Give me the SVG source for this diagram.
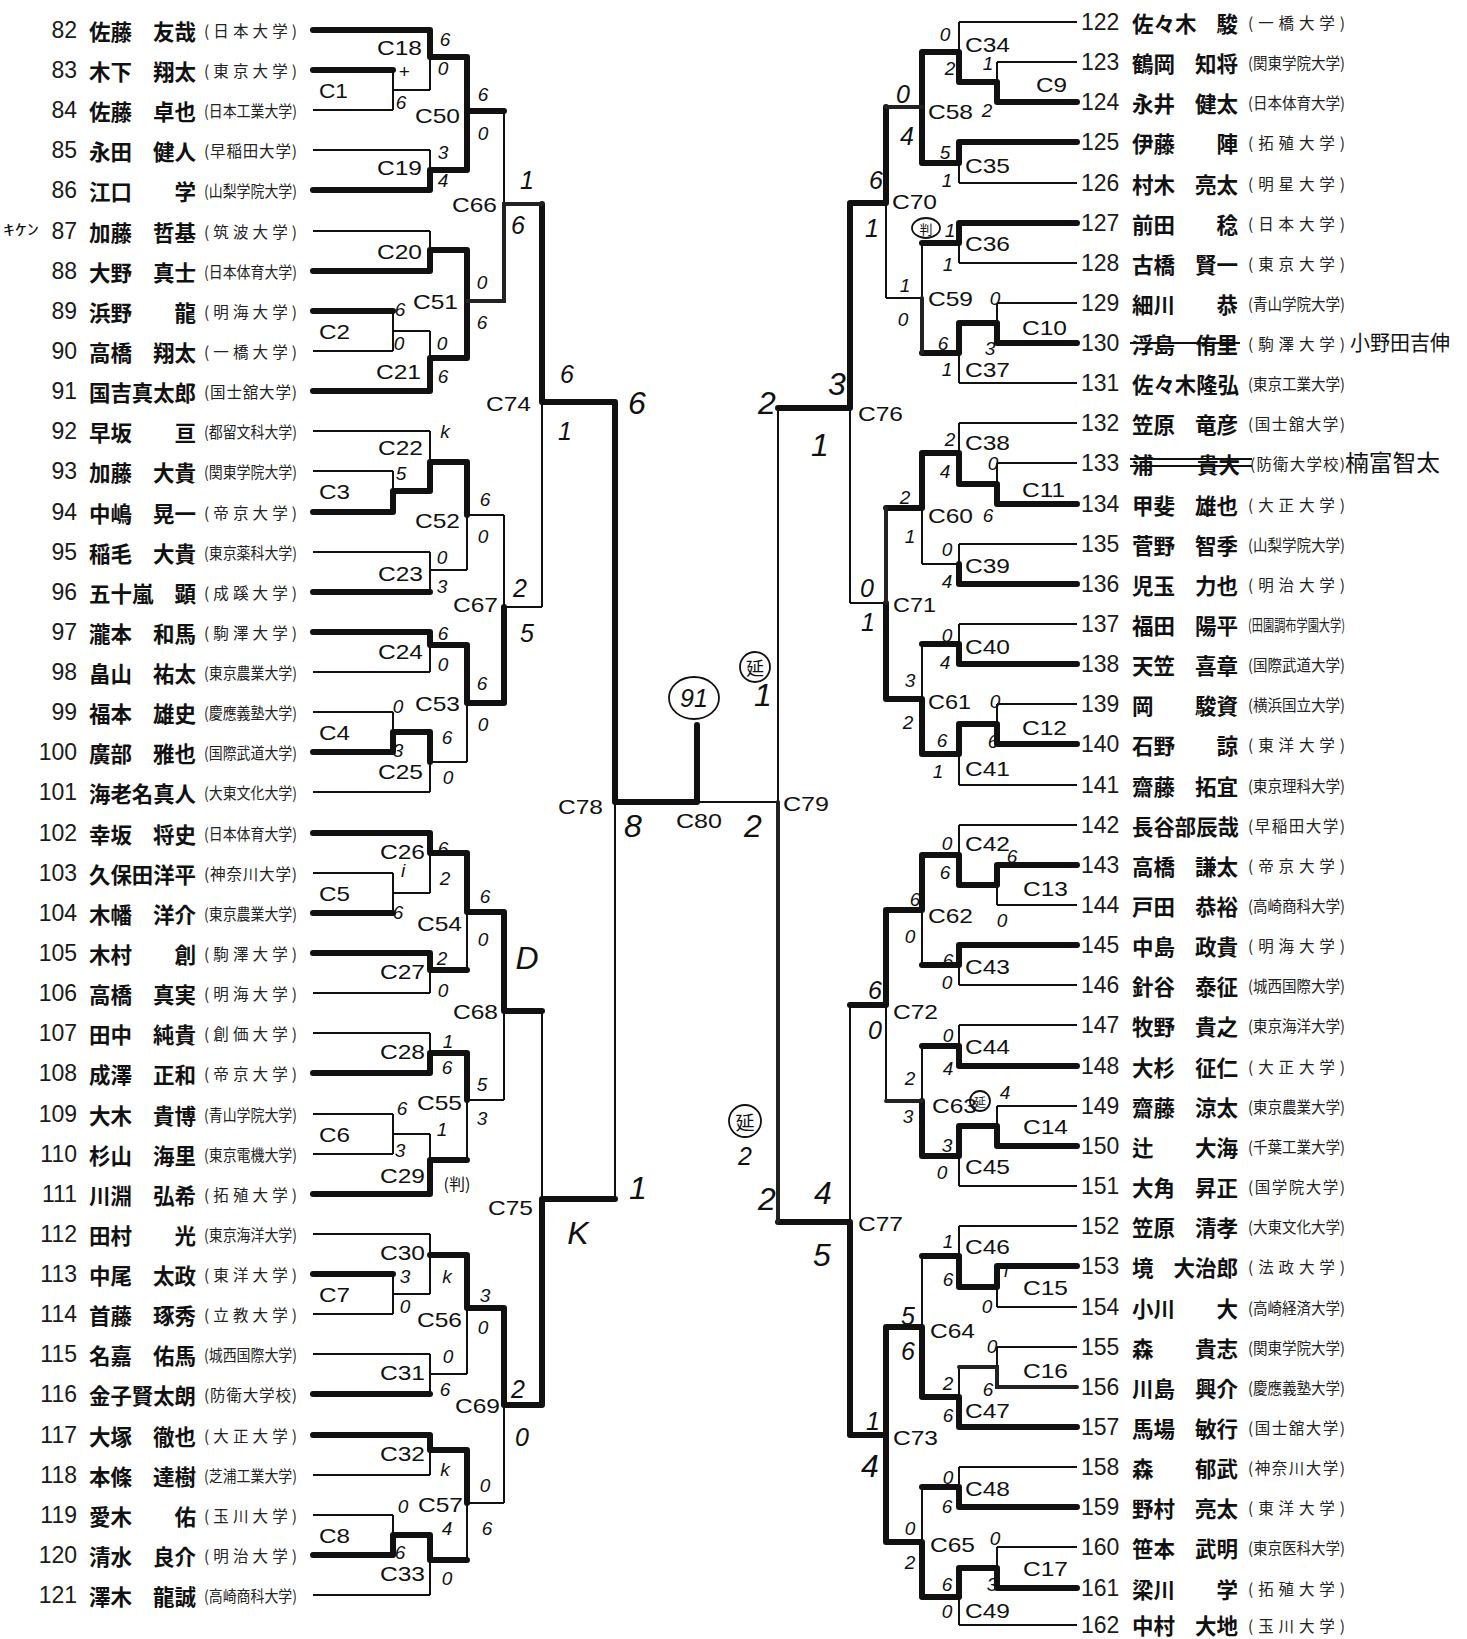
<svg xmlns="http://www.w3.org/2000/svg" width="1467" height="1639" viewBox="0 0 1467 1639">
<style>
text{dominant-baseline:central}
.n{font-family:"Liberation Sans",Arial,sans-serif;font-size:23px;fill:#1a1a1a}
.nm{font-family:"Noto Sans CJK JP",sans-serif;font-weight:700;font-size:21.5px;fill:#111}
.u{font-family:"Noto Sans CJK JP",sans-serif;font-size:15.5px;fill:#222}
.c{font-family:"Liberation Sans",Arial,sans-serif;font-size:21px;fill:#111}
.s{font-family:"Liberation Sans",Arial,sans-serif;font-style:italic;font-size:19px;fill:#111;text-anchor:middle}
.m{font-size:25px}
.b{font-size:32px}
.e{text-anchor:end}
.h{font-family:"Noto Sans CJK JP",sans-serif;fill:#111}
.ln{fill:none;stroke:#111;stroke-width:2}
.tk{fill:none;stroke:#111;stroke-width:6;stroke-linecap:round;stroke-linejoin:round}
.md{fill:none;stroke:#222;stroke-width:4;stroke-linecap:round}
.ring{fill:none;stroke:#111;stroke-width:1.8}
</style>
<rect width="1467" height="1639" fill="#fff"/>
<g id="connectors">
<path class="ln" d="M313 30H430M313 70H393M313 110H393M313 150H430M313 190H430M313 231H430M313 271H430M313 311H393M313 351H393M313 391H430M313 431H430M313 471H393M313 512H393M313 552H430M313 592H430M313 632H430M313 672H430M313 712H393M313 752H393M313 792H430M313 833H430M313 873H393M313 913H393M313 953H430M313 993H430M313 1033H430M313 1073H430M313 1114H393M313 1154H393M313 1194H430M313 1234H430M313 1274H393M313 1314H393M313 1354H430M313 1394H430M313 1435H430M313 1475H430M313 1515H393M313 1555H393M313 1595H430"/>
<path class="ln" d="M393 70V110M393 90H430M393 311V351M393 331H430M393 471V512M393 491H430M393 712V752M393 732H430M393 873V913M393 893H430M393 1114V1154M393 1134H430M393 1274V1314M393 1294H430M393 1515V1555M393 1535H430"/>
<path class="ln" d="M430 30V90M430 57H467M430 150V190M430 170H467M430 231V271M430 250H467M430 331V391M430 358H467M430 431V491M430 462H467M430 552V592M430 570H467M430 632V672M430 645H467M430 732V792M430 762H467M430 833V893M430 853H467M430 953V993M430 970H467M430 1033V1073M430 1053H467M430 1134V1194M430 1160H467M430 1234V1294M430 1255H467M430 1354V1394M430 1374H467M430 1435V1475M430 1450H467M430 1535V1595M430 1560H467"/>
<path class="ln" d="M467 57V170M467 111H504M467 250V358M467 301H504M467 462V570M467 515H504M467 645V762M467 703H504M467 853V970M467 912H504M467 1053V1160M467 1100H504M467 1255V1374M467 1308H504M467 1450V1560M467 1503H504"/>
<path class="ln" d="M504 111V301M504 204H542M504 515V703M504 607H542M504 912V1100M504 1011H542M504 1308V1503M504 1405H542M542 204V607M542 402H615M542 1011V1405M542 1199H615M615 402V1199M615 802H697M697 802H778"/>
<path class="ln" d="M959 22H1077M997 62H1077M997 102H1077M959 142H1077M959 183H1077M959 223H1077M959 263H1077M997 303H1077M997 343H1077M959 383H1077M959 423H1077M997 463H1077M997 504H1077M959 544H1077M959 584H1077M959 624H1077M959 664H1077M997 704H1077M997 744H1077M959 785H1077M959 825H1077M997 865H1077M997 905H1077M959 945H1077M959 985H1077M959 1025H1077M959 1066H1077M997 1106H1077M997 1146H1077M959 1186H1077M959 1226H1077M997 1266H1077M997 1307H1077M997 1347H1077M997 1387H1077M959 1427H1077M959 1467H1077M959 1507H1077M997 1547H1077M997 1588H1077M959 1625H1077"/>
<path class="ln" d="M997 62V102M997 82H959M997 303V343M997 323H959M997 463V504M997 484H959M997 704V744M997 724H959M997 865V905M997 885H959M997 1106V1146M997 1126H959M997 1266V1307M997 1287H959M997 1347V1387M997 1367H959M997 1547V1588M997 1568H959"/>
<path class="ln" d="M959 22V82M959 52H922M959 142V183M959 163H922M959 223V263M959 243H922M959 323V383M959 353H922M959 423V484M959 453H922M959 544V584M959 564H922M959 624V664M959 644H922M959 724V785M959 754H922M959 825V885M959 855H922M959 945V985M959 965H922M959 1025V1066M959 1046H922M959 1126V1186M959 1156H922M959 1226V1287M959 1256H922M959 1367V1427M959 1397H922M959 1467V1507M959 1487H922M959 1568V1625M959 1597H922"/>
<path class="ln" d="M922 52V163M922 107H886M922 243V353M922 298H886M922 453V564M922 508H886M922 644V754M922 699H886M922 855V965M922 910H886M922 1046V1156M922 1101H886M922 1256V1397M922 1327H886M922 1487V1597M922 1542H886"/>
<path class="ln" d="M886 107V298M886 203H850M886 508V699M886 603H850M886 910V1101M886 1005H850M886 1327V1542M886 1435H850M850 203V603M850 408H778M850 1005V1435M850 1222H778M778 408V1222"/>
<path class="tk" d="M313 30H430V57H467V111H504M467 111V170M313 70H393M313 190H430V170H467M313 271H430V250H467V358M313 311H393M313 391H430V358H467M542 204V402H615V802H697V725M313 512H393V491H430V462H467V515M313 592H430M313 632H430V645H467V703H504V607M313 752H393V732H430V762M313 833H430V853H467V912H504V1011H542M313 913H393M313 953H430V970H467M313 1073H430V1053H467V1100M313 1194H430V1160H467M313 1274H393M430 1255H467V1308H504V1405H542V1199H615M313 1394H430M313 1435H430V1450H467V1503M313 1555H393V1535H430V1560H467"/>
<path class="md" d="M467 301H504V204H542"/>
<path class="tk" d="M1077 102H997V82H959V52H922V163M886 107V203H850V408H778M1077 142H959V163H922M1077 223H959V243H922M1077 343H997V323H959V353H922M1077 504H997V484H959V453H922V508H886M1077 584H959V564M1077 664H959V644H922M1077 744H997V724H959V754H922V699H886V603M1077 865H997V885H959V855H922V910H886V1005H850M1077 945H959V965H922M1077 1066H959V1046H922M1077 1146H997V1126H959V1156H922V1101M1077 1266H997V1287H959V1256H922M1077 1427H959V1397H922V1327H886V1435M1077 1507H959V1487H922M1077 1588H997V1568H959V1597H922V1542H886V1435H850V1222H778"/>
<path class="md" d="M922 107H886M922 353V298M886 508V603M922 1101H886M1077 1387H997V1367H959M778 1222V802"/>
</g>
<g id="players-left">
<g id="p82"><text class="n e" x="77" y="30">82</text><text class="nm" x="89" y="30">佐藤</text><text class="nm e" x="196" y="30">友哉</text><text class="u" x="204" y="30" textLength="93" lengthAdjust="spacing">(日本大学)</text></g>
<g id="p83"><text class="n e" x="77" y="70">83</text><text class="nm" x="89" y="70">木下</text><text class="nm e" x="196" y="70">翔太</text><text class="u" x="204" y="70" textLength="93" lengthAdjust="spacing">(東京大学)</text></g>
<g id="p84"><text class="n e" x="77" y="110">84</text><text class="nm" x="89" y="110">佐藤</text><text class="nm e" x="196" y="110">卓也</text><text class="u" x="204" y="110" textLength="93" lengthAdjust="spacingAndGlyphs">(日本工業大学)</text></g>
<g id="p85"><text class="n e" x="77" y="150">85</text><text class="nm" x="89" y="150">永田</text><text class="nm e" x="196" y="150">健人</text><text class="u" x="204" y="150" textLength="93" lengthAdjust="spacing">(早稲田大学)</text></g>
<g id="p86"><text class="n e" x="77" y="190">86</text><text class="nm" x="89" y="190">江口</text><text class="nm e" x="196" y="190">学</text><text class="u" x="204" y="190" textLength="93" lengthAdjust="spacingAndGlyphs">(山梨学院大学)</text></g>
<g id="p87"><text class="n e" x="77" y="231">87</text><text class="nm" x="89" y="231">加藤</text><text class="nm e" x="196" y="231">哲基</text><text class="u" x="204" y="231" textLength="93" lengthAdjust="spacing">(筑波大学)</text><text class="h" x="3" y="228" font-size="15" textLength="36" lengthAdjust="spacingAndGlyphs">ｷｹﾝ</text></g>
<g id="p88"><text class="n e" x="77" y="271">88</text><text class="nm" x="89" y="271">大野</text><text class="nm e" x="196" y="271">真士</text><text class="u" x="204" y="271" textLength="93" lengthAdjust="spacingAndGlyphs">(日本体育大学)</text></g>
<g id="p89"><text class="n e" x="77" y="311">89</text><text class="nm" x="89" y="311">浜野</text><text class="nm e" x="196" y="311">龍</text><text class="u" x="204" y="311" textLength="93" lengthAdjust="spacing">(明海大学)</text></g>
<g id="p90"><text class="n e" x="77" y="351">90</text><text class="nm" x="89" y="351">高橋</text><text class="nm e" x="196" y="351">翔太</text><text class="u" x="204" y="351" textLength="93" lengthAdjust="spacing">(一橋大学)</text></g>
<g id="p91"><text class="n e" x="77" y="391">91</text><text class="nm" x="89" y="391" textLength="107" lengthAdjust="spacingAndGlyphs">国吉真太郎</text><text class="u" x="204" y="391" textLength="93" lengthAdjust="spacing">(国士舘大学)</text></g>
<g id="p92"><text class="n e" x="77" y="431">92</text><text class="nm" x="89" y="431">早坂</text><text class="nm e" x="196" y="431">亘</text><text class="u" x="204" y="431" textLength="93" lengthAdjust="spacingAndGlyphs">(都留文科大学)</text></g>
<g id="p93"><text class="n e" x="77" y="471">93</text><text class="nm" x="89" y="471">加藤</text><text class="nm e" x="196" y="471">大貴</text><text class="u" x="204" y="471" textLength="93" lengthAdjust="spacingAndGlyphs">(関東学院大学)</text></g>
<g id="p94"><text class="n e" x="77" y="512">94</text><text class="nm" x="89" y="512">中嶋</text><text class="nm e" x="196" y="512">晃一</text><text class="u" x="204" y="512" textLength="93" lengthAdjust="spacing">(帝京大学)</text></g>
<g id="p95"><text class="n e" x="77" y="552">95</text><text class="nm" x="89" y="552">稲毛</text><text class="nm e" x="196" y="552">大貴</text><text class="u" x="204" y="552" textLength="93" lengthAdjust="spacingAndGlyphs">(東京薬科大学)</text></g>
<g id="p96"><text class="n e" x="77" y="592">96</text><text class="nm" x="89" y="592">五十嵐</text><text class="nm e" x="196" y="592">顕</text><text class="u" x="204" y="592" textLength="93" lengthAdjust="spacing">(成蹊大学)</text></g>
<g id="p97"><text class="n e" x="77" y="632">97</text><text class="nm" x="89" y="632">瀧本</text><text class="nm e" x="196" y="632">和馬</text><text class="u" x="204" y="632" textLength="93" lengthAdjust="spacing">(駒澤大学)</text></g>
<g id="p98"><text class="n e" x="77" y="672">98</text><text class="nm" x="89" y="672">畠山</text><text class="nm e" x="196" y="672">祐太</text><text class="u" x="204" y="672" textLength="93" lengthAdjust="spacingAndGlyphs">(東京農業大学)</text></g>
<g id="p99"><text class="n e" x="77" y="712">99</text><text class="nm" x="89" y="712">福本</text><text class="nm e" x="196" y="712">雄史</text><text class="u" x="204" y="712" textLength="93" lengthAdjust="spacingAndGlyphs">(慶應義塾大学)</text></g>
<g id="p100"><text class="n e" x="77" y="752">100</text><text class="nm" x="89" y="752">廣部</text><text class="nm e" x="196" y="752">雅也</text><text class="u" x="204" y="752" textLength="93" lengthAdjust="spacingAndGlyphs">(国際武道大学)</text></g>
<g id="p101"><text class="n e" x="77" y="792">101</text><text class="nm" x="89" y="792" textLength="107" lengthAdjust="spacingAndGlyphs">海老名真人</text><text class="u" x="204" y="792" textLength="93" lengthAdjust="spacingAndGlyphs">(大東文化大学)</text></g>
<g id="p102"><text class="n e" x="77" y="833">102</text><text class="nm" x="89" y="833">幸坂</text><text class="nm e" x="196" y="833">将史</text><text class="u" x="204" y="833" textLength="93" lengthAdjust="spacingAndGlyphs">(日本体育大学)</text></g>
<g id="p103"><text class="n e" x="77" y="873">103</text><text class="nm" x="89" y="873" textLength="107" lengthAdjust="spacingAndGlyphs">久保田洋平</text><text class="u" x="204" y="873" textLength="93" lengthAdjust="spacing">(神奈川大学)</text></g>
<g id="p104"><text class="n e" x="77" y="913">104</text><text class="nm" x="89" y="913">木幡</text><text class="nm e" x="196" y="913">洋介</text><text class="u" x="204" y="913" textLength="93" lengthAdjust="spacingAndGlyphs">(東京農業大学)</text></g>
<g id="p105"><text class="n e" x="77" y="953">105</text><text class="nm" x="89" y="953">木村</text><text class="nm e" x="196" y="953">創</text><text class="u" x="204" y="953" textLength="93" lengthAdjust="spacing">(駒澤大学)</text></g>
<g id="p106"><text class="n e" x="77" y="993">106</text><text class="nm" x="89" y="993">高橋</text><text class="nm e" x="196" y="993">真実</text><text class="u" x="204" y="993" textLength="93" lengthAdjust="spacing">(明海大学)</text></g>
<g id="p107"><text class="n e" x="77" y="1033">107</text><text class="nm" x="89" y="1033">田中</text><text class="nm e" x="196" y="1033">純貴</text><text class="u" x="204" y="1033" textLength="93" lengthAdjust="spacing">(創価大学)</text></g>
<g id="p108"><text class="n e" x="77" y="1073">108</text><text class="nm" x="89" y="1073">成澤</text><text class="nm e" x="196" y="1073">正和</text><text class="u" x="204" y="1073" textLength="93" lengthAdjust="spacing">(帝京大学)</text></g>
<g id="p109"><text class="n e" x="77" y="1114">109</text><text class="nm" x="89" y="1114">大木</text><text class="nm e" x="196" y="1114">貴博</text><text class="u" x="204" y="1114" textLength="93" lengthAdjust="spacingAndGlyphs">(青山学院大学)</text></g>
<g id="p110"><text class="n e" x="77" y="1154">110</text><text class="nm" x="89" y="1154">杉山</text><text class="nm e" x="196" y="1154">海里</text><text class="u" x="204" y="1154" textLength="93" lengthAdjust="spacingAndGlyphs">(東京電機大学)</text></g>
<g id="p111"><text class="n e" x="77" y="1194">111</text><text class="nm" x="89" y="1194">川淵</text><text class="nm e" x="196" y="1194">弘希</text><text class="u" x="204" y="1194" textLength="93" lengthAdjust="spacing">(拓殖大学)</text></g>
<g id="p112"><text class="n e" x="77" y="1234">112</text><text class="nm" x="89" y="1234">田村</text><text class="nm e" x="196" y="1234">光</text><text class="u" x="204" y="1234" textLength="93" lengthAdjust="spacingAndGlyphs">(東京海洋大学)</text></g>
<g id="p113"><text class="n e" x="77" y="1274">113</text><text class="nm" x="89" y="1274">中尾</text><text class="nm e" x="196" y="1274">太政</text><text class="u" x="204" y="1274" textLength="93" lengthAdjust="spacing">(東洋大学)</text></g>
<g id="p114"><text class="n e" x="77" y="1314">114</text><text class="nm" x="89" y="1314">首藤</text><text class="nm e" x="196" y="1314">琢秀</text><text class="u" x="204" y="1314" textLength="93" lengthAdjust="spacing">(立教大学)</text></g>
<g id="p115"><text class="n e" x="77" y="1354">115</text><text class="nm" x="89" y="1354">名嘉</text><text class="nm e" x="196" y="1354">佑馬</text><text class="u" x="204" y="1354" textLength="93" lengthAdjust="spacingAndGlyphs">(城西国際大学)</text></g>
<g id="p116"><text class="n e" x="77" y="1394">116</text><text class="nm" x="89" y="1394" textLength="107" lengthAdjust="spacingAndGlyphs">金子賢太朗</text><text class="u" x="204" y="1394" textLength="93" lengthAdjust="spacing">(防衛大学校)</text></g>
<g id="p117"><text class="n e" x="77" y="1435">117</text><text class="nm" x="89" y="1435">大塚</text><text class="nm e" x="196" y="1435">徹也</text><text class="u" x="204" y="1435" textLength="93" lengthAdjust="spacing">(大正大学)</text></g>
<g id="p118"><text class="n e" x="77" y="1475">118</text><text class="nm" x="89" y="1475">本條</text><text class="nm e" x="196" y="1475">達樹</text><text class="u" x="204" y="1475" textLength="93" lengthAdjust="spacingAndGlyphs">(芝浦工業大学)</text></g>
<g id="p119"><text class="n e" x="77" y="1515">119</text><text class="nm" x="89" y="1515">愛木</text><text class="nm e" x="196" y="1515">佑</text><text class="u" x="204" y="1515" textLength="93" lengthAdjust="spacing">(玉川大学)</text></g>
<g id="p120"><text class="n e" x="77" y="1555">120</text><text class="nm" x="89" y="1555">清水</text><text class="nm e" x="196" y="1555">良介</text><text class="u" x="204" y="1555" textLength="93" lengthAdjust="spacing">(明治大学)</text></g>
<g id="p121"><text class="n e" x="77" y="1595">121</text><text class="nm" x="89" y="1595">澤木</text><text class="nm e" x="196" y="1595">龍誠</text><text class="u" x="204" y="1595" textLength="93" lengthAdjust="spacingAndGlyphs">(高崎商科大学)</text></g>
</g>
<g id="players-right">
<g id="p122"><text class="n" x="1081" y="22">122</text><text class="nm" x="1132" y="22">佐々木</text><text class="nm e" x="1238" y="22">駿</text><text class="u" x="1248" y="22" textLength="97" lengthAdjust="spacing">(一橋大学)</text></g>
<g id="p123"><text class="n" x="1081" y="62">123</text><text class="nm" x="1132" y="62">鶴岡</text><text class="nm e" x="1238" y="62">知将</text><text class="u" x="1248" y="62" textLength="97" lengthAdjust="spacingAndGlyphs">(関東学院大学)</text></g>
<g id="p124"><text class="n" x="1081" y="102">124</text><text class="nm" x="1132" y="102">永井</text><text class="nm e" x="1238" y="102">健太</text><text class="u" x="1248" y="102" textLength="97" lengthAdjust="spacingAndGlyphs">(日本体育大学)</text></g>
<g id="p125"><text class="n" x="1081" y="142">125</text><text class="nm" x="1132" y="142">伊藤</text><text class="nm e" x="1238" y="142">陣</text><text class="u" x="1248" y="142" textLength="97" lengthAdjust="spacing">(拓殖大学)</text></g>
<g id="p126"><text class="n" x="1081" y="183">126</text><text class="nm" x="1132" y="183">村木</text><text class="nm e" x="1238" y="183">亮太</text><text class="u" x="1248" y="183" textLength="97" lengthAdjust="spacing">(明星大学)</text></g>
<g id="p127"><text class="n" x="1081" y="223">127</text><text class="nm" x="1132" y="223">前田</text><text class="nm e" x="1238" y="223">稔</text><text class="u" x="1248" y="223" textLength="97" lengthAdjust="spacing">(日本大学)</text></g>
<g id="p128"><text class="n" x="1081" y="263">128</text><text class="nm" x="1132" y="263">古橋</text><text class="nm e" x="1238" y="263">賢一</text><text class="u" x="1248" y="263" textLength="97" lengthAdjust="spacing">(東京大学)</text></g>
<g id="p129"><text class="n" x="1081" y="303">129</text><text class="nm" x="1132" y="303">細川</text><text class="nm e" x="1238" y="303">恭</text><text class="u" x="1248" y="303" textLength="97" lengthAdjust="spacingAndGlyphs">(青山学院大学)</text></g>
<g id="p130"><text class="n" x="1081" y="343">130</text><text class="nm" x="1132" y="343">浮島</text><text class="nm e" x="1238" y="343">侑里</text><text class="u" x="1248" y="343" textLength="97" lengthAdjust="spacing">(駒澤大学)</text><path class="ln" d="M1130 343H1240"/><text class="h" x="1350" y="341" font-size="21" textLength="100" lengthAdjust="spacingAndGlyphs">小野田吉伸</text></g>
<g id="p131"><text class="n" x="1081" y="383">131</text><text class="nm" x="1132" y="383" textLength="107" lengthAdjust="spacingAndGlyphs">佐々木隆弘</text><text class="u" x="1248" y="383" textLength="97" lengthAdjust="spacingAndGlyphs">(東京工業大学)</text></g>
<g id="p132"><text class="n" x="1081" y="423">132</text><text class="nm" x="1132" y="423">笠原</text><text class="nm e" x="1238" y="423">竜彦</text><text class="u" x="1248" y="423" textLength="97" lengthAdjust="spacing">(国士舘大学)</text></g>
<g id="p133"><text class="n" x="1081" y="463">133</text><text class="nm" x="1132" y="463">浦</text><text class="nm e" x="1240" y="463">貴大</text><text class="u" x="1250" y="463" textLength="95" lengthAdjust="spacing">(防衛大学校)</text><path class="ln" d="M1130 459H1252M1130 466H1252"/><text class="h" x="1345" y="461" font-size="23" textLength="95" lengthAdjust="spacingAndGlyphs">楠富智太</text></g>
<g id="p134"><text class="n" x="1081" y="504">134</text><text class="nm" x="1132" y="504">甲斐</text><text class="nm e" x="1238" y="504">雄也</text><text class="u" x="1248" y="504" textLength="97" lengthAdjust="spacing">(大正大学)</text></g>
<g id="p135"><text class="n" x="1081" y="544">135</text><text class="nm" x="1132" y="544">菅野</text><text class="nm e" x="1238" y="544">智季</text><text class="u" x="1248" y="544" textLength="97" lengthAdjust="spacingAndGlyphs">(山梨学院大学)</text></g>
<g id="p136"><text class="n" x="1081" y="584">136</text><text class="nm" x="1132" y="584">児玉</text><text class="nm e" x="1238" y="584">力也</text><text class="u" x="1248" y="584" textLength="97" lengthAdjust="spacing">(明治大学)</text></g>
<g id="p137"><text class="n" x="1081" y="624">137</text><text class="nm" x="1132" y="624">福田</text><text class="nm e" x="1238" y="624">陽平</text><text class="u" x="1248" y="624" textLength="97" lengthAdjust="spacingAndGlyphs">(田園調布学園大学)</text></g>
<g id="p138"><text class="n" x="1081" y="664">138</text><text class="nm" x="1132" y="664">天笠</text><text class="nm e" x="1238" y="664">喜章</text><text class="u" x="1248" y="664" textLength="97" lengthAdjust="spacingAndGlyphs">(国際武道大学)</text></g>
<g id="p139"><text class="n" x="1081" y="704">139</text><text class="nm" x="1132" y="704">岡</text><text class="nm e" x="1238" y="704">駿資</text><text class="u" x="1248" y="704" textLength="97" lengthAdjust="spacingAndGlyphs">(横浜国立大学)</text></g>
<g id="p140"><text class="n" x="1081" y="744">140</text><text class="nm" x="1132" y="744">石野</text><text class="nm e" x="1238" y="744">諒</text><text class="u" x="1248" y="744" textLength="97" lengthAdjust="spacing">(東洋大学)</text></g>
<g id="p141"><text class="n" x="1081" y="785">141</text><text class="nm" x="1132" y="785">齋藤</text><text class="nm e" x="1238" y="785">拓宜</text><text class="u" x="1248" y="785" textLength="97" lengthAdjust="spacingAndGlyphs">(東京理科大学)</text></g>
<g id="p142"><text class="n" x="1081" y="825">142</text><text class="nm" x="1132" y="825" textLength="107" lengthAdjust="spacingAndGlyphs">長谷部辰哉</text><text class="u" x="1248" y="825" textLength="97" lengthAdjust="spacing">(早稲田大学)</text></g>
<g id="p143"><text class="n" x="1081" y="865">143</text><text class="nm" x="1132" y="865">高橋</text><text class="nm e" x="1238" y="865">謙太</text><text class="u" x="1248" y="865" textLength="97" lengthAdjust="spacing">(帝京大学)</text></g>
<g id="p144"><text class="n" x="1081" y="905">144</text><text class="nm" x="1132" y="905">戸田</text><text class="nm e" x="1238" y="905">恭裕</text><text class="u" x="1248" y="905" textLength="97" lengthAdjust="spacingAndGlyphs">(高崎商科大学)</text></g>
<g id="p145"><text class="n" x="1081" y="945">145</text><text class="nm" x="1132" y="945">中島</text><text class="nm e" x="1238" y="945">政貴</text><text class="u" x="1248" y="945" textLength="97" lengthAdjust="spacing">(明海大学)</text></g>
<g id="p146"><text class="n" x="1081" y="985">146</text><text class="nm" x="1132" y="985">針谷</text><text class="nm e" x="1238" y="985">泰征</text><text class="u" x="1248" y="985" textLength="97" lengthAdjust="spacingAndGlyphs">(城西国際大学)</text></g>
<g id="p147"><text class="n" x="1081" y="1025">147</text><text class="nm" x="1132" y="1025">牧野</text><text class="nm e" x="1238" y="1025">貴之</text><text class="u" x="1248" y="1025" textLength="97" lengthAdjust="spacingAndGlyphs">(東京海洋大学)</text></g>
<g id="p148"><text class="n" x="1081" y="1066">148</text><text class="nm" x="1132" y="1066">大杉</text><text class="nm e" x="1238" y="1066">征仁</text><text class="u" x="1248" y="1066" textLength="97" lengthAdjust="spacing">(大正大学)</text></g>
<g id="p149"><text class="n" x="1081" y="1106">149</text><text class="nm" x="1132" y="1106">齋藤</text><text class="nm e" x="1238" y="1106">涼太</text><text class="u" x="1248" y="1106" textLength="97" lengthAdjust="spacingAndGlyphs">(東京農業大学)</text></g>
<g id="p150"><text class="n" x="1081" y="1146">150</text><text class="nm" x="1132" y="1146">辻</text><text class="nm e" x="1238" y="1146">大海</text><text class="u" x="1248" y="1146" textLength="97" lengthAdjust="spacingAndGlyphs">(千葉工業大学)</text></g>
<g id="p151"><text class="n" x="1081" y="1186">151</text><text class="nm" x="1132" y="1186">大角</text><text class="nm e" x="1238" y="1186">昇正</text><text class="u" x="1248" y="1186" textLength="97" lengthAdjust="spacing">(国学院大学)</text></g>
<g id="p152"><text class="n" x="1081" y="1226">152</text><text class="nm" x="1132" y="1226">笠原</text><text class="nm e" x="1238" y="1226">清孝</text><text class="u" x="1248" y="1226" textLength="97" lengthAdjust="spacingAndGlyphs">(大東文化大学)</text></g>
<g id="p153"><text class="n" x="1081" y="1266">153</text><text class="nm" x="1132" y="1266">境</text><text class="nm e" x="1238" y="1266">大治郎</text><text class="u" x="1248" y="1266" textLength="97" lengthAdjust="spacing">(法政大学)</text></g>
<g id="p154"><text class="n" x="1081" y="1307">154</text><text class="nm" x="1132" y="1307">小川</text><text class="nm e" x="1238" y="1307">大</text><text class="u" x="1248" y="1307" textLength="97" lengthAdjust="spacingAndGlyphs">(高崎経済大学)</text></g>
<g id="p155"><text class="n" x="1081" y="1347">155</text><text class="nm" x="1132" y="1347">森</text><text class="nm e" x="1238" y="1347">貴志</text><text class="u" x="1248" y="1347" textLength="97" lengthAdjust="spacingAndGlyphs">(関東学院大学)</text></g>
<g id="p156"><text class="n" x="1081" y="1387">156</text><text class="nm" x="1132" y="1387">川島</text><text class="nm e" x="1238" y="1387">興介</text><text class="u" x="1248" y="1387" textLength="97" lengthAdjust="spacingAndGlyphs">(慶應義塾大学)</text></g>
<g id="p157"><text class="n" x="1081" y="1427">157</text><text class="nm" x="1132" y="1427">馬場</text><text class="nm e" x="1238" y="1427">敏行</text><text class="u" x="1248" y="1427" textLength="97" lengthAdjust="spacing">(国士舘大学)</text></g>
<g id="p158"><text class="n" x="1081" y="1467">158</text><text class="nm" x="1132" y="1467">森</text><text class="nm e" x="1238" y="1467">郁武</text><text class="u" x="1248" y="1467" textLength="97" lengthAdjust="spacing">(神奈川大学)</text></g>
<g id="p159"><text class="n" x="1081" y="1507">159</text><text class="nm" x="1132" y="1507">野村</text><text class="nm e" x="1238" y="1507">亮太</text><text class="u" x="1248" y="1507" textLength="97" lengthAdjust="spacing">(東洋大学)</text></g>
<g id="p160"><text class="n" x="1081" y="1547">160</text><text class="nm" x="1132" y="1547">笹本</text><text class="nm e" x="1238" y="1547">武明</text><text class="u" x="1248" y="1547" textLength="97" lengthAdjust="spacingAndGlyphs">(東京医科大学)</text></g>
<g id="p161"><text class="n" x="1081" y="1588">161</text><text class="nm" x="1132" y="1588">梁川</text><text class="nm e" x="1238" y="1588">学</text><text class="u" x="1248" y="1588" textLength="97" lengthAdjust="spacing">(拓殖大学)</text></g>
<g id="p162"><text class="n" x="1081" y="1625">162</text><text class="nm" x="1132" y="1624">中村</text><text class="nm e" x="1238" y="1624">大地</text><text class="u" x="1248" y="1625" textLength="97" lengthAdjust="spacing">(玉川大学)</text></g>
</g>
<g id="matches-left">
<g id="C1"><text class="c" x="319" y="90" textLength="29" lengthAdjust="spacingAndGlyphs">C1</text></g>
<g id="C2"><text class="c" x="319" y="331" textLength="31" lengthAdjust="spacingAndGlyphs">C2</text></g>
<g id="C3"><text class="c" x="319" y="491" textLength="31" lengthAdjust="spacingAndGlyphs">C3</text></g>
<g id="C4"><text class="c" x="319" y="732" textLength="31" lengthAdjust="spacingAndGlyphs">C4</text></g>
<g id="C5"><text class="c" x="319" y="893" textLength="31" lengthAdjust="spacingAndGlyphs">C5</text></g>
<g id="C6"><text class="c" x="319" y="1134" textLength="31" lengthAdjust="spacingAndGlyphs">C6</text></g>
<g id="C7"><text class="c" x="319" y="1294" textLength="31" lengthAdjust="spacingAndGlyphs">C7</text></g>
<g id="C8"><text class="c" x="319" y="1535" textLength="31" lengthAdjust="spacingAndGlyphs">C8</text></g>
<g id="C18"><text class="c e" x="422" y="47" textLength="45" lengthAdjust="spacingAndGlyphs">C18</text></g>
<g id="C19"><text class="c e" x="422" y="167" textLength="45" lengthAdjust="spacingAndGlyphs">C19</text></g>
<g id="C20"><text class="c e" x="422" y="251" textLength="45" lengthAdjust="spacingAndGlyphs">C20</text></g>
<g id="C21"><text class="c e" x="421" y="371" textLength="45" lengthAdjust="spacingAndGlyphs">C21</text></g>
<g id="C22"><text class="c e" x="423" y="447" textLength="45" lengthAdjust="spacingAndGlyphs">C22</text></g>
<g id="C23"><text class="c e" x="423" y="573" textLength="45" lengthAdjust="spacingAndGlyphs">C23</text></g>
<g id="C24"><text class="c e" x="423" y="651" textLength="45" lengthAdjust="spacingAndGlyphs">C24</text></g>
<g id="C25"><text class="c e" x="423" y="771" textLength="45" lengthAdjust="spacingAndGlyphs">C25</text></g>
<g id="C26"><text class="c e" x="425" y="851" textLength="45" lengthAdjust="spacingAndGlyphs">C26</text></g>
<g id="C27"><text class="c e" x="425" y="971" textLength="45" lengthAdjust="spacingAndGlyphs">C27</text></g>
<g id="C28"><text class="c e" x="425" y="1051" textLength="45" lengthAdjust="spacingAndGlyphs">C28</text></g>
<g id="C29"><text class="c e" x="425" y="1175" textLength="45" lengthAdjust="spacingAndGlyphs">C29</text></g>
<g id="C30"><text class="c e" x="425" y="1252" textLength="45" lengthAdjust="spacingAndGlyphs">C30</text></g>
<g id="C31"><text class="c e" x="425" y="1372" textLength="45" lengthAdjust="spacingAndGlyphs">C31</text></g>
<g id="C32"><text class="c e" x="425" y="1453" textLength="45" lengthAdjust="spacingAndGlyphs">C32</text></g>
<g id="C33"><text class="c e" x="425" y="1573" textLength="45" lengthAdjust="spacingAndGlyphs">C33</text></g>
<g id="C50"><text class="c e" x="460" y="115" textLength="45" lengthAdjust="spacingAndGlyphs">C50</text></g>
<g id="C51"><text class="c e" x="458" y="301" textLength="45" lengthAdjust="spacingAndGlyphs">C51</text></g>
<g id="C52"><text class="c e" x="460" y="520" textLength="45" lengthAdjust="spacingAndGlyphs">C52</text></g>
<g id="C53"><text class="c e" x="460" y="703" textLength="45" lengthAdjust="spacingAndGlyphs">C53</text></g>
<g id="C54"><text class="c e" x="462" y="923" textLength="45" lengthAdjust="spacingAndGlyphs">C54</text></g>
<g id="C55"><text class="c e" x="462" y="1102" textLength="45" lengthAdjust="spacingAndGlyphs">C55</text></g>
<g id="C56"><text class="c e" x="462" y="1319" textLength="45" lengthAdjust="spacingAndGlyphs">C56</text></g>
<g id="C57"><text class="c e" x="463" y="1504" textLength="45" lengthAdjust="spacingAndGlyphs">C57</text></g>
<g id="C66"><text class="c e" x="497" y="204" textLength="45" lengthAdjust="spacingAndGlyphs">C66</text></g>
<g id="C67"><text class="c e" x="498" y="604" textLength="45" lengthAdjust="spacingAndGlyphs">C67</text></g>
<g id="C68"><text class="c e" x="498" y="1011" textLength="45" lengthAdjust="spacingAndGlyphs">C68</text></g>
<g id="C69"><text class="c e" x="500" y="1405" textLength="45" lengthAdjust="spacingAndGlyphs">C69</text></g>
<g id="C74"><text class="c e" x="531" y="403" textLength="45" lengthAdjust="spacingAndGlyphs">C74</text></g>
<g id="C75"><text class="c e" x="533" y="1207" textLength="45" lengthAdjust="spacingAndGlyphs">C75</text></g>
<g id="C78"><text class="c e" x="603" y="806" textLength="45" lengthAdjust="spacingAndGlyphs">C78</text></g>
<g id="C80"><text class="c" x="676" y="820" textLength="46" lengthAdjust="spacingAndGlyphs">C80</text></g>
</g>
<g id="matches-right">
<g id="C9"><text class="c e" x="1067" y="84" textLength="31" lengthAdjust="spacingAndGlyphs">C9</text></g>
<g id="C10"><text class="c e" x="1067" y="327" textLength="45" lengthAdjust="spacingAndGlyphs">C10</text></g>
<g id="C11"><text class="c e" x="1065" y="489" textLength="43" lengthAdjust="spacingAndGlyphs">C11</text></g>
<g id="C12"><text class="c e" x="1067" y="727" textLength="45" lengthAdjust="spacingAndGlyphs">C12</text></g>
<g id="C13"><text class="c e" x="1068" y="888" textLength="45" lengthAdjust="spacingAndGlyphs">C13</text></g>
<g id="C14"><text class="c e" x="1068" y="1126" textLength="45" lengthAdjust="spacingAndGlyphs">C14</text></g>
<g id="C15"><text class="c e" x="1068" y="1287" textLength="45" lengthAdjust="spacingAndGlyphs">C15</text></g>
<g id="C16"><text class="c e" x="1068" y="1370" textLength="45" lengthAdjust="spacingAndGlyphs">C16</text></g>
<g id="C17"><text class="c e" x="1068" y="1568" textLength="45" lengthAdjust="spacingAndGlyphs">C17</text></g>
<g id="C34"><text class="c" x="965" y="44" textLength="45" lengthAdjust="spacingAndGlyphs">C34</text></g>
<g id="C35"><text class="c" x="965" y="165" textLength="45" lengthAdjust="spacingAndGlyphs">C35</text></g>
<g id="C36"><text class="c" x="965" y="243" textLength="45" lengthAdjust="spacingAndGlyphs">C36</text></g>
<g id="C37"><text class="c" x="965" y="369" textLength="45" lengthAdjust="spacingAndGlyphs">C37</text></g>
<g id="C38"><text class="c" x="965" y="442" textLength="45" lengthAdjust="spacingAndGlyphs">C38</text></g>
<g id="C39"><text class="c" x="965" y="565" textLength="45" lengthAdjust="spacingAndGlyphs">C39</text></g>
<g id="C40"><text class="c" x="965" y="646" textLength="45" lengthAdjust="spacingAndGlyphs">C40</text></g>
<g id="C41"><text class="c" x="965" y="768" textLength="45" lengthAdjust="spacingAndGlyphs">C41</text></g>
<g id="C42"><text class="c" x="965" y="843" textLength="45" lengthAdjust="spacingAndGlyphs">C42</text></g>
<g id="C43"><text class="c" x="965" y="966" textLength="45" lengthAdjust="spacingAndGlyphs">C43</text></g>
<g id="C44"><text class="c" x="965" y="1046" textLength="45" lengthAdjust="spacingAndGlyphs">C44</text></g>
<g id="C45"><text class="c" x="965" y="1166" textLength="45" lengthAdjust="spacingAndGlyphs">C45</text></g>
<g id="C46"><text class="c" x="965" y="1246" textLength="45" lengthAdjust="spacingAndGlyphs">C46</text></g>
<g id="C47"><text class="c" x="965" y="1410" textLength="45" lengthAdjust="spacingAndGlyphs">C47</text></g>
<g id="C48"><text class="c" x="965" y="1488" textLength="45" lengthAdjust="spacingAndGlyphs">C48</text></g>
<g id="C49"><text class="c" x="965" y="1610" textLength="45" lengthAdjust="spacingAndGlyphs">C49</text></g>
<g id="C58"><text class="c" x="928" y="111" textLength="45" lengthAdjust="spacingAndGlyphs">C58</text></g>
<g id="C59"><text class="c" x="928" y="298" textLength="45" lengthAdjust="spacingAndGlyphs">C59</text></g>
<g id="C60"><text class="c" x="928" y="515" textLength="45" lengthAdjust="spacingAndGlyphs">C60</text></g>
<g id="C61"><text class="c" x="928" y="701" textLength="43" lengthAdjust="spacingAndGlyphs">C61</text></g>
<g id="C62"><text class="c" x="928" y="915" textLength="45" lengthAdjust="spacingAndGlyphs">C62</text></g>
<g id="C63"><text class="c" x="932" y="1105" textLength="45" lengthAdjust="spacingAndGlyphs">C63</text></g>
<g id="C64"><text class="c" x="930" y="1330" textLength="45" lengthAdjust="spacingAndGlyphs">C64</text></g>
<g id="C65"><text class="c" x="930" y="1544" textLength="45" lengthAdjust="spacingAndGlyphs">C65</text></g>
<g id="C70"><text class="c" x="892" y="201" textLength="45" lengthAdjust="spacingAndGlyphs">C70</text></g>
<g id="C71"><text class="c" x="893" y="604" textLength="43" lengthAdjust="spacingAndGlyphs">C71</text></g>
<g id="C72"><text class="c" x="893" y="1011" textLength="45" lengthAdjust="spacingAndGlyphs">C72</text></g>
<g id="C73"><text class="c" x="893" y="1437" textLength="45" lengthAdjust="spacingAndGlyphs">C73</text></g>
<g id="C76"><text class="c" x="858" y="413" textLength="45" lengthAdjust="spacingAndGlyphs">C76</text></g>
<g id="C77"><text class="c" x="858" y="1223" textLength="45" lengthAdjust="spacingAndGlyphs">C77</text></g>
<g id="C79"><text class="c" x="783" y="803" textLength="46" lengthAdjust="spacingAndGlyphs">C79</text></g>
</g>
<g id="scores">
<text class="s" x="445" y="39">6</text><text class="s" x="443" y="68">0</text><text class="s" x="404" y="71">+</text><text class="s" x="401" y="102">6</text>
<text class="s" x="483" y="94">6</text><text class="s" x="483" y="133">0</text>
<text class="s" x="443" y="152">3</text><text class="s" x="443" y="180">4</text>
<text class="s m" x="527" y="180">1</text><text class="s m" x="518" y="225">6</text>
<text class="s" x="482" y="282">0</text><text class="s" x="482" y="322">6</text>
<text class="s" x="400" y="309">6</text><text class="s" x="399" y="343">0</text><text class="s" x="442" y="343">0</text><text class="s" x="443" y="376">6</text>
<text class="s m" x="567" y="374">6</text><text class="s m" x="565" y="431">1</text><text class="s b" x="637" y="403">6</text>
<text class="s" x="445" y="431">k</text><text class="s" x="401" y="473">5</text>
<text class="s" x="485" y="499">6</text><text class="s" x="483" y="536">0</text>
<text class="s" x="442" y="557">0</text><text class="s" x="442" y="586">3</text>
<text class="s m" x="520" y="588">2</text><text class="s m" x="527" y="633">5</text>
<text class="s" x="443" y="633">6</text><text class="s" x="443" y="664">0</text>
<text class="s" x="482" y="683">6</text><text class="s" x="483" y="724">0</text>
<text class="s" x="398" y="706">0</text><text class="s" x="398" y="750">3</text>
<text class="s" x="447" y="737">6</text><text class="s" x="448" y="777">0</text>
<ellipse class="ring" cx="694" cy="698" rx="25" ry="21"/><text class="s m" x="694" y="698">91</text>
<text class="s b" x="633" y="826">8</text>
<text class="s" x="443" y="848">6</text><text class="s" x="445" y="878">2</text><text class="s" x="403" y="870">i</text><text class="s" x="398" y="912">6</text>
<text class="s" x="485" y="896">6</text><text class="s" x="483" y="939">0</text>
<text class="s" x="442" y="958">2</text><text class="s" x="443" y="990">0</text>
<text class="s b" x="527" y="958">D</text>
<text class="s" x="448" y="1041">1</text><text class="s" x="447" y="1067">6</text>
<text class="s" x="482" y="1084">5</text><text class="s" x="482" y="1118">3</text>
<text class="s" x="402" y="1108">6</text><text class="s" x="400" y="1150">3</text>
<text class="s" x="442" y="1129">1</text><text class="h" x="457" y="1183" font-size="16" text-anchor="middle">(判)</text>
<text class="s b" x="638" y="1188">1</text><text class="s b" x="578" y="1233">K</text>
<text class="s" x="405" y="1276">3</text><text class="s" x="405" y="1306">0</text><text class="s" x="447" y="1276">k</text>
<text class="s" x="485" y="1295">3</text><text class="s" x="483" y="1327">0</text>
<text class="s" x="448" y="1356">0</text><text class="s" x="445" y="1389">6</text>
<text class="s m" x="518" y="1389">2</text><text class="s m" x="522" y="1437">0</text>
<text class="s" x="445" y="1469">k</text>
<text class="s" x="403" y="1506">0</text><text class="s" x="447" y="1528">4</text><text class="s" x="485" y="1485">0</text><text class="s" x="487" y="1528">6</text>
<text class="s" x="400" y="1552">6</text><text class="s" x="447" y="1578">0</text>
<text class="s" x="945" y="34">0</text><text class="s" x="950" y="68">2</text><text class="s" x="988" y="63">1</text><text class="s" x="987" y="110">2</text>
<text class="s m" x="903" y="94">0</text><text class="s m" x="907" y="136">4</text>
<text class="s" x="945" y="152">5</text><text class="s" x="947" y="180">1</text>
<text class="s m" x="876" y="180">6</text><text class="s m" x="872" y="228">1</text>
<ellipse class="ring" cx="926" cy="228" rx="14" ry="10"/><text class="h" x="926" y="228" font-size="13" text-anchor="middle">判</text><text class="s" x="950" y="230">1</text><text class="s" x="948" y="264">1</text>
<text class="s" x="905" y="285">1</text><text class="s" x="903" y="319">0</text>
<text class="s" x="995" y="298">0</text><text class="s" x="990" y="348">3</text>
<text class="s" x="943" y="343">6</text><text class="s" x="947" y="369">1</text>
<text class="s b" x="837" y="384">3</text><text class="s b" x="820" y="445">1</text><text class="s b" x="767" y="403">2</text>
<text class="s" x="950" y="439">2</text><text class="s" x="945" y="471">4</text><text class="s" x="993" y="463">0</text><text class="s" x="988" y="515">6</text>
<text class="s" x="905" y="497">2</text><text class="s" x="910" y="536">1</text>
<text class="s" x="947" y="549">0</text><text class="s" x="947" y="581">4</text>
<text class="s m" x="867" y="588">0</text><text class="s m" x="868" y="622">1</text>
<text class="s" x="947" y="635">0</text><text class="s" x="945" y="662">4</text>
<text class="s" x="910" y="680">3</text><text class="s" x="908" y="722">2</text>
<text class="s" x="995" y="701">0</text><text class="s" x="993" y="741">6</text>
<text class="s" x="942" y="740">6</text><text class="s" x="938" y="771">1</text>
<circle class="ring" cx="755" cy="667" r="15"/><text class="h" x="755" y="667" font-size="18" text-anchor="middle">延</text><text class="s b" x="763" y="695">1</text>
<text class="s b" x="753" y="826">2</text>
<text class="s" x="947" y="843">0</text><text class="s" x="945" y="872">6</text><text class="s" x="1012" y="856">6</text><text class="s" x="1002" y="920">0</text>
<text class="s" x="915" y="899">6</text><text class="s" x="910" y="936">0</text>
<text class="s" x="948" y="960">6</text><text class="s" x="947" y="982">0</text>
<text class="s m" x="875" y="990">6</text><text class="s m" x="875" y="1030">0</text>
<text class="s" x="948" y="1035">0</text><text class="s" x="948" y="1068">4</text>
<text class="s" x="910" y="1078">2</text><text class="s" x="908" y="1116">3</text>
<text class="s" x="1005" y="1092">4</text><circle class="ring" cx="980" cy="1101" r="10"/><text class="h" x="980" y="1101" font-size="12" text-anchor="middle">延</text>
<text class="s" x="947" y="1145">3</text><text class="s" x="942" y="1172">0</text>
<circle class="ring" cx="745" cy="1121" r="16"/><text class="h" x="745" y="1121" font-size="19" text-anchor="middle">延</text><text class="s m" x="745" y="1156">2</text><text class="s b" x="767" y="1199">2</text>
<text class="s b" x="823" y="1193">4</text><text class="s b" x="822" y="1255">5</text>
<text class="s" x="948" y="1241">1</text><text class="s" x="948" y="1279">6</text><text class="s" x="1006" y="1270">i</text><text class="s" x="987" y="1306">0</text>
<text class="s m" x="908" y="1316">5</text><text class="s m" x="908" y="1351">6</text>
<text class="s" x="992" y="1346">0</text><text class="s" x="988" y="1389">6</text>
<text class="s" x="948" y="1383">2</text><text class="s" x="948" y="1415">6</text>
<text class="s m" x="873" y="1421">1</text><text class="s b" x="870" y="1466">4</text>
<text class="s" x="948" y="1477">0</text><text class="s" x="947" y="1506">6</text>
<text class="s" x="910" y="1528">0</text><text class="s" x="910" y="1562">2</text>
<text class="s" x="995" y="1538">0</text><text class="s" x="992" y="1584">3</text>
<text class="s" x="947" y="1584">6</text><text class="s" x="947" y="1611">0</text>
</g>
</svg>
